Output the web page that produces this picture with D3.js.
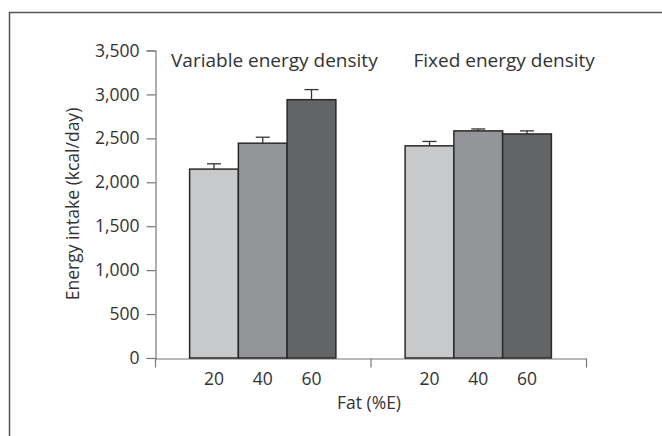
<!DOCTYPE html>
<html>
<head>
<meta charset="utf-8">
<script src="https://cdn.jsdelivr.net/npm/d3@7"></script>
<style>
  body { margin: 0; background: #fff; }
  svg text { font-family: "Open Sans", "Noto Sans", sans-serif; fill: #333; }
</style>
</head>
<body>
<div class="visHolder"></div>
<script>
const groups = ["Variable energy density", "Fixed energy density"];
const fats = ["20", "40", "60"];
const means = [
  [2150, 2445, 2940],
  [2415, 2585, 2550],
];
const errors = [
  [60, 68, 115],
  [50, 22, 35],
];
const yTicks = [0, 500, 1000, 1500, 2000, 2500, 3000, 3500];
const colors = ["#c8c9cb", "#939598", "#636466"];

const width = 662;
const height = 436;

const data = [];
groups.forEach((g, gi) => {
  fats.forEach((f, fi) => {
    data.push({ group: g, fat: f, value: means[gi][fi], err: errors[gi][fi], i: fi });
  });
});

const svg = d3
  .select(".visHolder")
  .append("svg")
  .attr("width", width)
  .attr("height", height);

// frame
svg
  .append("path")
  .attr("d", `M9.5,${height} V12.5 H${width}`)
  .attr("fill", "none")
  .attr("stroke", "#555")
  .attr("stroke-width", 1.5);

const y = d3.scaleLinear().domain([0, 3500]).range([358, 50.5]);
const x0 = d3.scaleBand().domain(groups).range([155, 586]);
const x1 = d3
  .scaleBand()
  .domain(fats)
  .range([0, x0.bandwidth()])
  .paddingInner(0)
  .paddingOuter(0.71);

// y axis
const yAxis = d3
  .axisLeft(y)
  .tickValues(yTicks)
  .tickSize(9)
  .tickPadding(7)
  .tickFormat(d3.format(","));

const gy = svg.append("g").attr("transform", "translate(155.5,0)").call(yAxis);
gy.select(".domain").attr("stroke", "#777").attr("stroke-width", 1.2);
gy.selectAll(".tick line").attr("stroke", "#777").attr("stroke-width", 1.2);
gy.selectAll(".tick text").attr("font-size", 17.5).attr("fill", "#333");

// x axis: ticks at group edges
const xEdge = d3.scaleLinear().domain([0, 2]).range([155, 586]);
const gx = svg
  .append("g")
  .attr("transform", "translate(0,358.5)")
  .call(d3.axisBottom(xEdge).tickValues([0, 1, 2]).tickSize(9).tickSizeOuter(0).tickFormat(""));
gx.select(".domain").attr("stroke", "#777").attr("stroke-width", 1.2);
gx.selectAll(".tick line").attr("stroke", "#777").attr("stroke-width", 1.2);

// bars
const bars = svg.append("g");
bars
  .selectAll("rect")
  .data(data)
  .enter()
  .append("rect")
  .attr("x", (d) => x0(d.group) + x1(d.fat))
  .attr("y", (d) => y(d.value))
  .attr("width", x1.bandwidth())
  .attr("height", (d) => y(0) - y(d.value))
  .attr("fill", (d) => colors[d.i])
  .attr("stroke", "#2a2a2a")
  .attr("stroke-width", 1.5);

// error bars (upper only)
const errG = svg.append("g").attr("stroke", "#333").attr("stroke-width", 1.3);
data.forEach((d) => {
  const cx = x0(d.group) + x1(d.fat) + x1.bandwidth() / 2;
  errG
    .append("line")
    .attr("x1", cx)
    .attr("x2", cx)
    .attr("y1", y(d.value))
    .attr("y2", y(d.value + d.err));
  errG
    .append("line")
    .attr("x1", cx - 7)
    .attr("x2", cx + 7)
    .attr("y1", y(d.value + d.err))
    .attr("y2", y(d.value + d.err));
});

// x tick labels
svg
  .append("g")
  .selectAll("text")
  .data(data)
  .enter()
  .append("text")
  .attr("x", (d) => x0(d.group) + x1(d.fat) + x1.bandwidth() / 2)
  .attr("y", 385)
  .attr("text-anchor", "middle")
  .attr("font-size", 17.5)
  .text((d) => d.fat);

// group titles
const titleOffset = [16, 43];
svg
  .append("g")
  .selectAll("text")
  .data(groups)
  .enter()
  .append("text")
  .attr("x", (d, i) => x0(d) + titleOffset[i])
  .attr("y", 67)
  .attr("font-size", 19)
  .text((d) => d);

// axis titles
svg
  .append("text")
  .attr("x", 369)
  .attr("y", 409)
  .attr("text-anchor", "middle")
  .attr("font-size", 17.5)
  .text("Fat (%E)");

svg
  .append("text")
  .attr("transform", "translate(79,204) rotate(-90)")
  .attr("text-anchor", "middle")
  .attr("font-size", 17.5)
  .text("Energy intake (kcal/day)");
</script>
</body>
</html>
